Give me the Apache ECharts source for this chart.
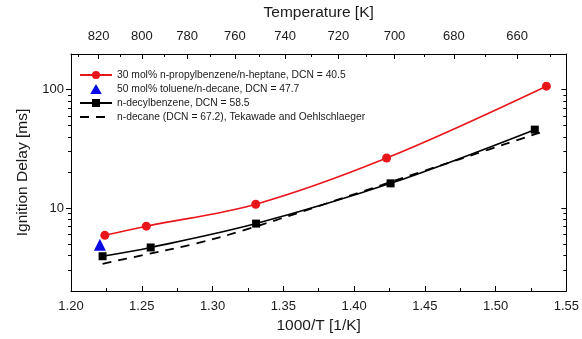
<!DOCTYPE html>
<html><head><meta charset="utf-8">
<script src="https://cdn.jsdelivr.net/npm/echarts@6/dist/echarts.min.js"></script>
<style>html,body{margin:0;padding:0;background:#fff}#c{width:582px;height:339px}</style>
</head><body><div id="c"></div>
<script>
// Data (1000/T [1/K], ignition delay [ms])
const propylX = [1.2239, 1.2532, 1.3305, 1.4230, 1.5359];
const propylY = [5.90, 7.05, 10.8, 26.5, 107];
const tolueneX = [1.2204];
const tolueneY = [4.91];
const decylX = [1.2223, 1.2563, 1.3308, 1.4258, 1.5277];
const decylY = [3.93, 4.66, 7.41, 16.2, 46.0];
const decaneX = [1.2223, 1.2500, 1.2866, 1.3218, 1.3800, 1.4470, 1.4732, 1.5317];
const decaneY = [3.39, 4.00, 4.97, 6.49, 10.9, 20.2, 25.6, 43.6];
const seriesNames = [
  '30 mol% n-propylbenzene/n-heptane, DCN = 40.5',
  '50 mol% toluene/n-decane, DCN = 47.7',
  'n-decylbenzene, DCN = 58.5',
  'n-decane (DCN = 67.2), Tekawade and Oehlschlaeger'
];
const tempMajor = [820, 800, 780, 760, 740, 720, 700, 680, 660];
const tempMinor = [830, 810, 790, 770, 750, 730, 710, 690, 670, 650];
const yMajorTicks = [10, 100];
const yMinorTicks = [3, 4, 5, 6, 7, 8, 9, 20, 30, 40, 50, 60, 70, 80, 90];
const xMin = 1.20, xMax = 1.55, xStep = 0.05;
const yMin = 2, yMax = 200;

const zip = (xs, ys) => xs.map((x, i) => [x, ys[i]]);
const font = 'Arial, "Liberation Sans", sans-serif';
const txt = '#1a1a1a';
const triPath = 'path://M0,10 L5.8,0 L11.6,10 Z';

const chart = echarts.init(document.getElementById('c'), null, {renderer: 'canvas'});
chart.setOption({
  animation: false,
  textStyle: {fontFamily: font},
  grid: {left: 71, right: 13, top: 54, bottom: 45},
  legend: {
    data: [
      {name: seriesNames[0]},
      {name: seriesNames[1], icon: triPath},
      {name: seriesNames[2]},
      {name: seriesNames[3], itemStyle: {color: 'rgba(0,0,0,0)', borderColor: 'rgba(0,0,0,0)', borderWidth: 0, opacity: 0}}
    ],
    orient: 'vertical', left: 79, top: 70, padding: 0, itemGap: 4,
    itemWidth: 32, itemHeight: 10,
    textStyle: {fontSize: 10.3, color: txt, fontFamily: font}
  },
  xAxis: [
    {type: 'value', position: 'bottom', min: xMin, max: xMax, interval: xStep,
     name: '1000/T [1/K]', nameLocation: 'middle', nameGap: 27,
     nameTextStyle: {fontSize: 15.5, color: txt, fontFamily: font},
     axisLine: {lineStyle: {color: '#000', width: 1}},
     axisTick: {inside: true, length: 5, lineStyle: {color: '#000'}},
     minorTick: {show: true, splitNumber: 2, length: 3, lineStyle: {color: '#000'}},
     axisLabel: {fontSize: 13, color: txt, margin: 9, formatter: v => v.toFixed(2), fontFamily: font},
     splitLine: {show: false}},
    {type: 'value', position: 'top', min: xMin, max: xMax,
     name: 'Temperature [K]', nameLocation: 'middle', nameGap: 33,
     nameTextStyle: {fontSize: 15.5, color: txt, fontFamily: font},
     axisLine: {lineStyle: {color: '#000', width: 1}},
     axisTick: {inside: true, length: 5, customValues: tempMajor.map(t => 1000 / t), lineStyle: {color: '#000'}},
     axisLabel: {fontSize: 13, color: txt, margin: 11, customValues: tempMajor.map(t => 1000 / t),
                 formatter: v => String(Math.round(1000 / v)), fontFamily: font},
     splitLine: {show: false}},
    {type: 'value', position: 'top', min: xMin, max: xMax,
     axisLine: {show: false},
     axisTick: {inside: true, length: 3, customValues: tempMinor.map(t => 1000 / t), lineStyle: {color: '#000'}},
     axisLabel: {show: false},
     splitLine: {show: false}}
  ],
  yAxis: [
    {type: 'log', logBase: 10, min: yMin, max: yMax, position: 'left',
     name: 'Ignition Delay [ms]', nameLocation: 'middle', nameGap: 40, nameRotate: 90,
     nameTextStyle: {fontSize: 15.5, color: txt, fontFamily: font},
     axisLine: {show: true, lineStyle: {color: '#000', width: 1}},
     axisTick: {show: true, length: 5, customValues: yMajorTicks, lineStyle: {color: '#000'}},
     axisLabel: {fontSize: 13, color: txt, margin: 7, fontFamily: font, customValues: yMajorTicks,
       formatter: v => String(Math.round(v))},
     splitLine: {show: false}},
    {type: 'log', logBase: 10, min: yMin, max: yMax, position: 'left',
     axisLine: {show: false},
     axisTick: {show: true, length: 3, customValues: yMinorTicks, lineStyle: {color: '#000'}},
     axisLabel: {show: false},
     splitLine: {show: false}},
    {type: 'log', logBase: 10, min: yMin, max: yMax, position: 'right',
     axisLine: {show: true, lineStyle: {color: '#000', width: 1}},
     axisTick: {show: true, inside: true, length: 5, customValues: yMajorTicks, lineStyle: {color: '#000'}},
     axisLabel: {show: false},
     splitLine: {show: false}},
    {type: 'log', logBase: 10, min: yMin, max: yMax, position: 'right',
     axisLine: {show: false},
     axisTick: {show: true, inside: true, length: 3, customValues: yMinorTicks, lineStyle: {color: '#000'}},
     axisLabel: {show: false},
     splitLine: {show: false}}
  ],
  series: [
    {name: seriesNames[0], type: 'line', data: zip(propylX, propylY), smooth: 0.35,
     symbol: 'circle', symbolSize: 9, itemStyle: {color: '#e8161b'}, lineStyle: {color: '#e8161b', width: 1.6}},
    {name: seriesNames[1], type: 'scatter', data: zip(tolueneX, tolueneY),
     symbol: 'triangle', symbolSize: 12, itemStyle: {color: '#0a0ae6', opacity: 1}},
    {name: seriesNames[2], type: 'line', data: zip(decylX, decylY), smooth: 0.35,
     symbol: 'rect', symbolSize: 8, itemStyle: {color: '#000'}, lineStyle: {color: '#000', width: 1.6}},
    {name: seriesNames[3], type: 'line', data: zip(decaneX, decaneY), smooth: 0.35,
     symbol: 'none', itemStyle: {color: '#000'}, lineStyle: {color: '#000', width: 1.8, type: [9, 7]}}
  ]
});
</script></body></html>
